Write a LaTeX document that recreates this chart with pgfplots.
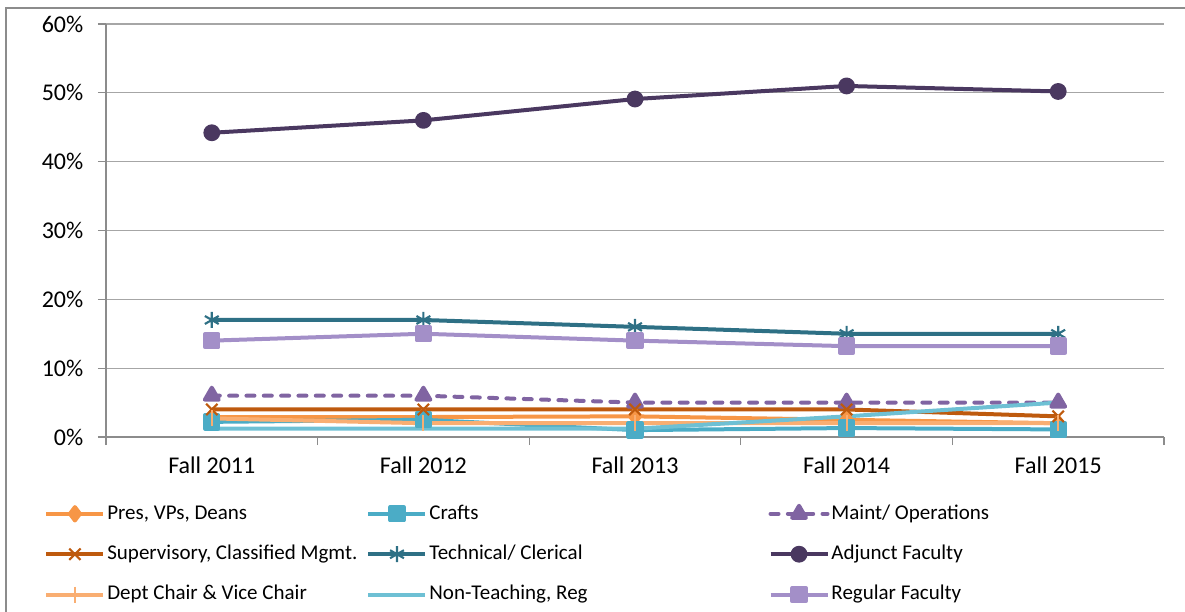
\documentclass[border=0pt]{standalone}
\usepackage{fontspec}
\setmainfont{Carlito}
\usepackage{pgfplots}
\pgfplotsset{compat=1.18}
\definecolor{cPres}{HTML}{F79646}
\definecolor{cCrafts}{HTML}{4BACC6}
\definecolor{cMaint}{HTML}{8064A2}
\definecolor{cSup}{HTML}{BE5A0E}
\definecolor{cTech}{HTML}{2E7085}
\definecolor{cAdj}{HTML}{4A3860}
\definecolor{cDept}{HTML}{F9AE72}
\definecolor{cNon}{HTML}{6EC0D4}
\definecolor{cReg}{HTML}{A38FC8}
\definecolor{cGrid}{HTML}{A6A6A6}
\definecolor{cAxis}{HTML}{8C8C8C}
\begin{document}
\begin{tikzpicture}
\useasboundingbox (0,0) rectangle (888.75pt,458.25pt);
\draw[cAxis, line width=0.8pt] (4.5pt,-5pt) -- (4.5pt,452.25pt) -- (900pt,452.25pt);
\begin{axis}[
  scale only axis, width=793.5pt, height=309.75pt,
  at={(79.5pt,130.5pt)}, anchor=south west,
  xmin=-0.5, xmax=4.5, ymin=0, ymax=60,
  xtick={0,1,2,3,4},
  xticklabels={Fall 2011,Fall 2012,Fall 2013,Fall 2014,Fall 2015},
  minor xtick={-0.5,0.5,1.5,2.5,3.5,4.5},
  major x tick style={draw=none},
  ytick={0,10,20,30,40,50,60},
  yticklabel={\pgfmathprintnumber{\tick}\%},
  /pgf/number format/assume math mode=true,
  ymajorgrids, grid style={cGrid, line width=0.8pt},
  axis x line*=bottom, axis y line*=left,
  axis line style={cAxis, line width=0.8pt},
  tick align=outside,
  tick style={cAxis, line width=0.8pt},
  major tick length=6pt, minor tick length=6pt,
  tick label style={font=\fontsize{18}{20}\selectfont, black},
  y tick label style={xshift=-7.5pt},
  x tick label style={yshift=-5pt},
  every axis plot/.append style={line width=3pt, line join=round},
  legend columns=3,
  legend cell align=left,
  legend style={draw=none, fill=none, at={(-0.0605,-0.1595)}, anchor=north west,
    inner sep=0pt, column sep=0pt, row sep=14.3pt,
    font=\fontsize{15.75}{18}\selectfont,
    nodes={inner sep=0pt, text height=12pt, text depth=4pt}},
  legend image code/.code={%
    \draw[mark repeat=2,mark phase=2,#1] plot coordinates {(0pt,0pt) (21.4pt,0pt) (42.75pt,0pt)};
    \path (-1.6pt,0pt) (44.2pt,0pt);},
]
\addplot[cPres, mark=diamond*, mark size=5pt] coordinates {(0,2.9) (1,2.9) (2,3.0) (3,2.5) (4,2.0)};
\addlegendentry{\makebox[192.75pt][l]{Pres, VPs, Deans}}
\addplot[cCrafts, mark=square*, mark size=5pt] coordinates {(0,2.2) (1,2.5) (2,1.0) (3,1.3) (4,1.1)};
\addlegendentry{\makebox[252.75pt][l]{Crafts}}
\addplot[cMaint, dash pattern=on 6pt off 7pt, line cap=round, mark=triangle*, mark size=6pt, mark options={solid}] coordinates {(0,6) (1,6) (2,5) (3,5) (4,5)};
\addlegendentry{Maint/ Operations}
\addplot[cSup, mark=x, mark size=6pt, mark options={line width=1.6pt}] coordinates {(0,4) (1,4) (2,4) (3,4) (4,3)};
\addlegendentry{\makebox[192.75pt][l]{Supervisory, Classified Mgmt.}}
\addplot[cTech, mark=asterisk, mark size=6pt, mark options={line width=1.6pt}] coordinates {(0,17) (1,17) (2,16) (3,15) (4,15)};
\addlegendentry{\makebox[252.75pt][l]{Technical/ Clerical}}
\addplot[cAdj, mark=*, mark size=4.8pt] coordinates {(0,44.2) (1,46.0) (2,49.1) (3,51.0) (4,50.2)};
\addlegendentry{Adjunct Faculty}
\addplot[cDept, mark=|, mark size=6pt, mark options={line width=1.5pt}] coordinates {(0,2.7) (1,2.0) (2,2.0) (3,2.0) (4,2.0)};
\addlegendentry{\makebox[192.75pt][l]{Dept Chair \& Vice Chair}}
\addplot[cNon] coordinates {(0,1.2) (1,1.2) (2,1.2) (3,3.0) (4,5.0)};
\addlegendentry{\makebox[252.75pt][l]{Non-Teaching, Reg}}
\addplot[cReg, mark=square*, mark size=5pt] coordinates {(0,14) (1,15) (2,14) (3,13.2) (4,13.2)};
\addlegendentry{Regular Faculty}
\end{axis}
\end{tikzpicture}
\end{document}
